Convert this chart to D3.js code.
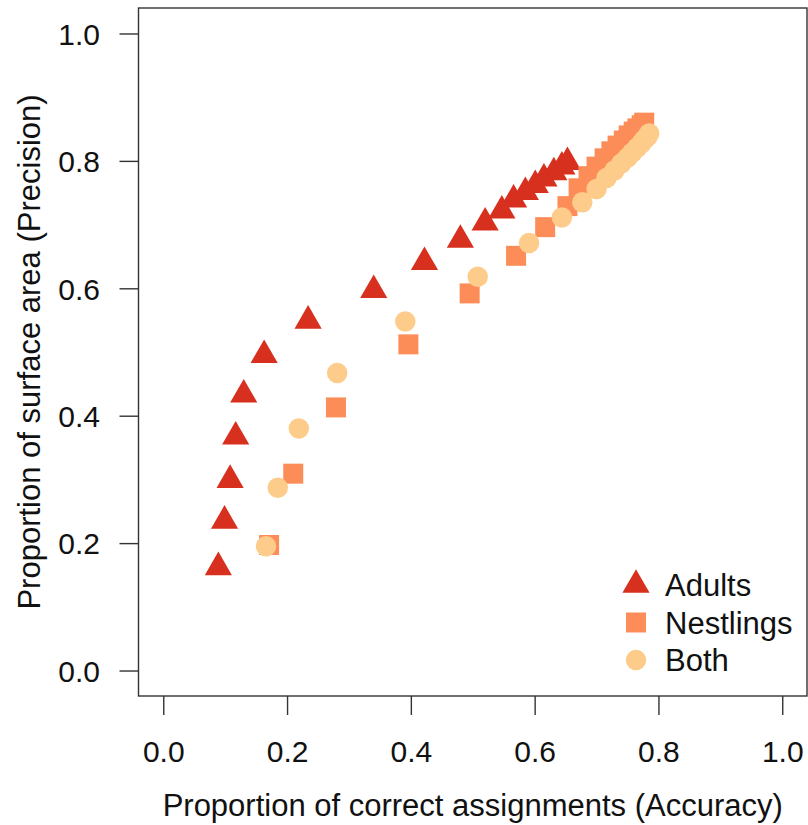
<!DOCTYPE html>
<html>
<head>
<meta charset="utf-8">
<script src="https://cdn.jsdelivr.net/npm/d3@7"></script>
<style>
  html, body { margin: 0; padding: 0; background: #fff; }
  svg { display: block; }
  text { font-family: "Liberation Sans", Arial, Helvetica, sans-serif; fill: #111; }
</style>
</head>
<body>
<svg id="chart" width="808" height="825"></svg>
<script>
// ---- data ----
const adultsX = [0.089, 0.099, 0.108, 0.117, 0.130, 0.163, 0.234, 0.340, 0.422, 0.480, 0.520, 0.547, 0.566, 0.585, 0.601, 0.615, 0.631, 0.644, 0.653];
const adultsY = [0.162, 0.235, 0.299, 0.367, 0.433, 0.495, 0.549, 0.597, 0.641, 0.676, 0.703, 0.722, 0.739, 0.751, 0.762, 0.772, 0.782, 0.791, 0.798];

const nestlingsX = [0.171, 0.210, 0.279, 0.396, 0.495, 0.570, 0.617, 0.653, 0.671, 0.687, 0.700, 0.713, 0.724, 0.734, 0.744, 0.752, 0.760, 0.766, 0.773, 0.777];
const nestlingsY = [0.197, 0.309, 0.413, 0.512, 0.592, 0.651, 0.696, 0.729, 0.757, 0.776, 0.791, 0.804, 0.815, 0.824, 0.832, 0.840, 0.846, 0.851, 0.856, 0.860];

const bothX = [0.166, 0.185, 0.219, 0.281, 0.391, 0.508, 0.591, 0.644, 0.677, 0.700, 0.716, 0.729, 0.740, 0.750, 0.758, 0.766, 0.772, 0.777, 0.782, 0.785];
const bothY = [0.195, 0.287, 0.380, 0.467, 0.548, 0.618, 0.671, 0.711, 0.735, 0.756, 0.773, 0.785, 0.796, 0.805, 0.813, 0.821, 0.827, 0.833, 0.838, 0.843];

const seriesNames = ["Adults", "Nestlings", "Both"];
const xTicks = [0.0, 0.2, 0.4, 0.6, 0.8, 1.0];
const yTicks = [0.0, 0.2, 0.4, 0.6, 0.8, 1.0];
const xTitle = "Proportion of correct assignments (Accuracy)";
const yTitle = "Proportion of surface area (Precision)";

// ---- layout ----
const svg = d3.select("#chart");
const x = d3.scaleLinear().domain([-0.04, 1.04]).range([138.5, 807]);
const y = d3.scaleLinear().domain([-0.04, 1.04]).range([696, 8]);

const colors = ["#D7301F", "#FC8D59", "#FDCC8A"];
const shapes = [d3.symbolTriangle, d3.symbolSquare, d3.symbolCircle];
const sizes = [320, 400, 330];
const axisColor = "#333";
const tickFont = 30;
const labelFont = 31;

// box
svg.append("rect")
  .attr("x", x(-0.04)).attr("y", y(1.04))
  .attr("width", x(1.04) - x(-0.04)).attr("height", y(-0.04) - y(1.04))
  .attr("fill", "none").attr("stroke", axisColor).attr("stroke-width", 1.4);

// x axis
const xAxis = d3.axisBottom(x).tickValues(xTicks).tickSize(19).tickSizeOuter(0)
  .tickFormat(d3.format(".1f"));
const gx = svg.append("g").attr("transform", `translate(0,${y(-0.04)})`).call(xAxis);
gx.select(".domain").remove();
gx.selectAll(".tick line").attr("stroke", axisColor).attr("stroke-width", 1.4);
gx.selectAll(".tick text").attr("y", 66).attr("dy", null)
  .attr("font-size", tickFont).attr("font-family", "Liberation Sans, Arial, sans-serif").attr("fill", "#111");

// y axis
const yAxis = d3.axisLeft(y).tickValues(yTicks).tickSize(19).tickSizeOuter(0)
  .tickFormat(d3.format(".1f"));
const gy = svg.append("g").attr("transform", `translate(${x(-0.04)},0)`).call(yAxis);
gy.select(".domain").remove();
gy.selectAll(".tick line").attr("stroke", axisColor).attr("stroke-width", 1.4);
gy.selectAll(".tick text").attr("x", -38.5).attr("dy", "0.36em")
  .attr("font-size", tickFont).attr("font-family", "Liberation Sans, Arial, sans-serif").attr("fill", "#111");

// titles
const plotCx = (x(-0.04) + x(1.04)) / 2;
const plotCy = (y(-0.04) + y(1.04)) / 2;
svg.append("text").attr("x", plotCx).attr("y", 816)
  .attr("text-anchor", "middle").attr("font-size", labelFont).text(xTitle);
svg.append("text").attr("transform", `translate(40,${plotCy}) rotate(-90)`)
  .attr("text-anchor", "middle").attr("font-size", labelFont).text(yTitle);

// points
const series = [
  adultsX.map((v, i) => ({x: v, y: adultsY[i]})),
  nestlingsX.map((v, i) => ({x: v, y: nestlingsY[i]})),
  bothX.map((v, i) => ({x: v, y: bothY[i]}))
];
series.forEach((pts, s) => {
  svg.append("g").selectAll("path").data(pts).join("path")
    .attr("transform", d => `translate(${x(d.x)},${y(d.y)})`)
    .attr("d", d3.symbol().type(shapes[s]).size(sizes[s]))
    .attr("fill", colors[s]);
});

// legend
const legendX = 636, legendY0 = 585, legendStep = 37.5;
const lg = svg.append("g");
seriesNames.forEach((name, i) => {
  const cy = legendY0 + i * legendStep;
  lg.append("path").attr("transform", `translate(${legendX},${cy})`)
    .attr("d", d3.symbol().type(shapes[i]).size(sizes[i])).attr("fill", colors[i]);
  lg.append("text").attr("x", 665).attr("y", cy).attr("dy", "0.36em")
    .attr("font-size", labelFont).text(name);
});
</script>
</body>
</html>
